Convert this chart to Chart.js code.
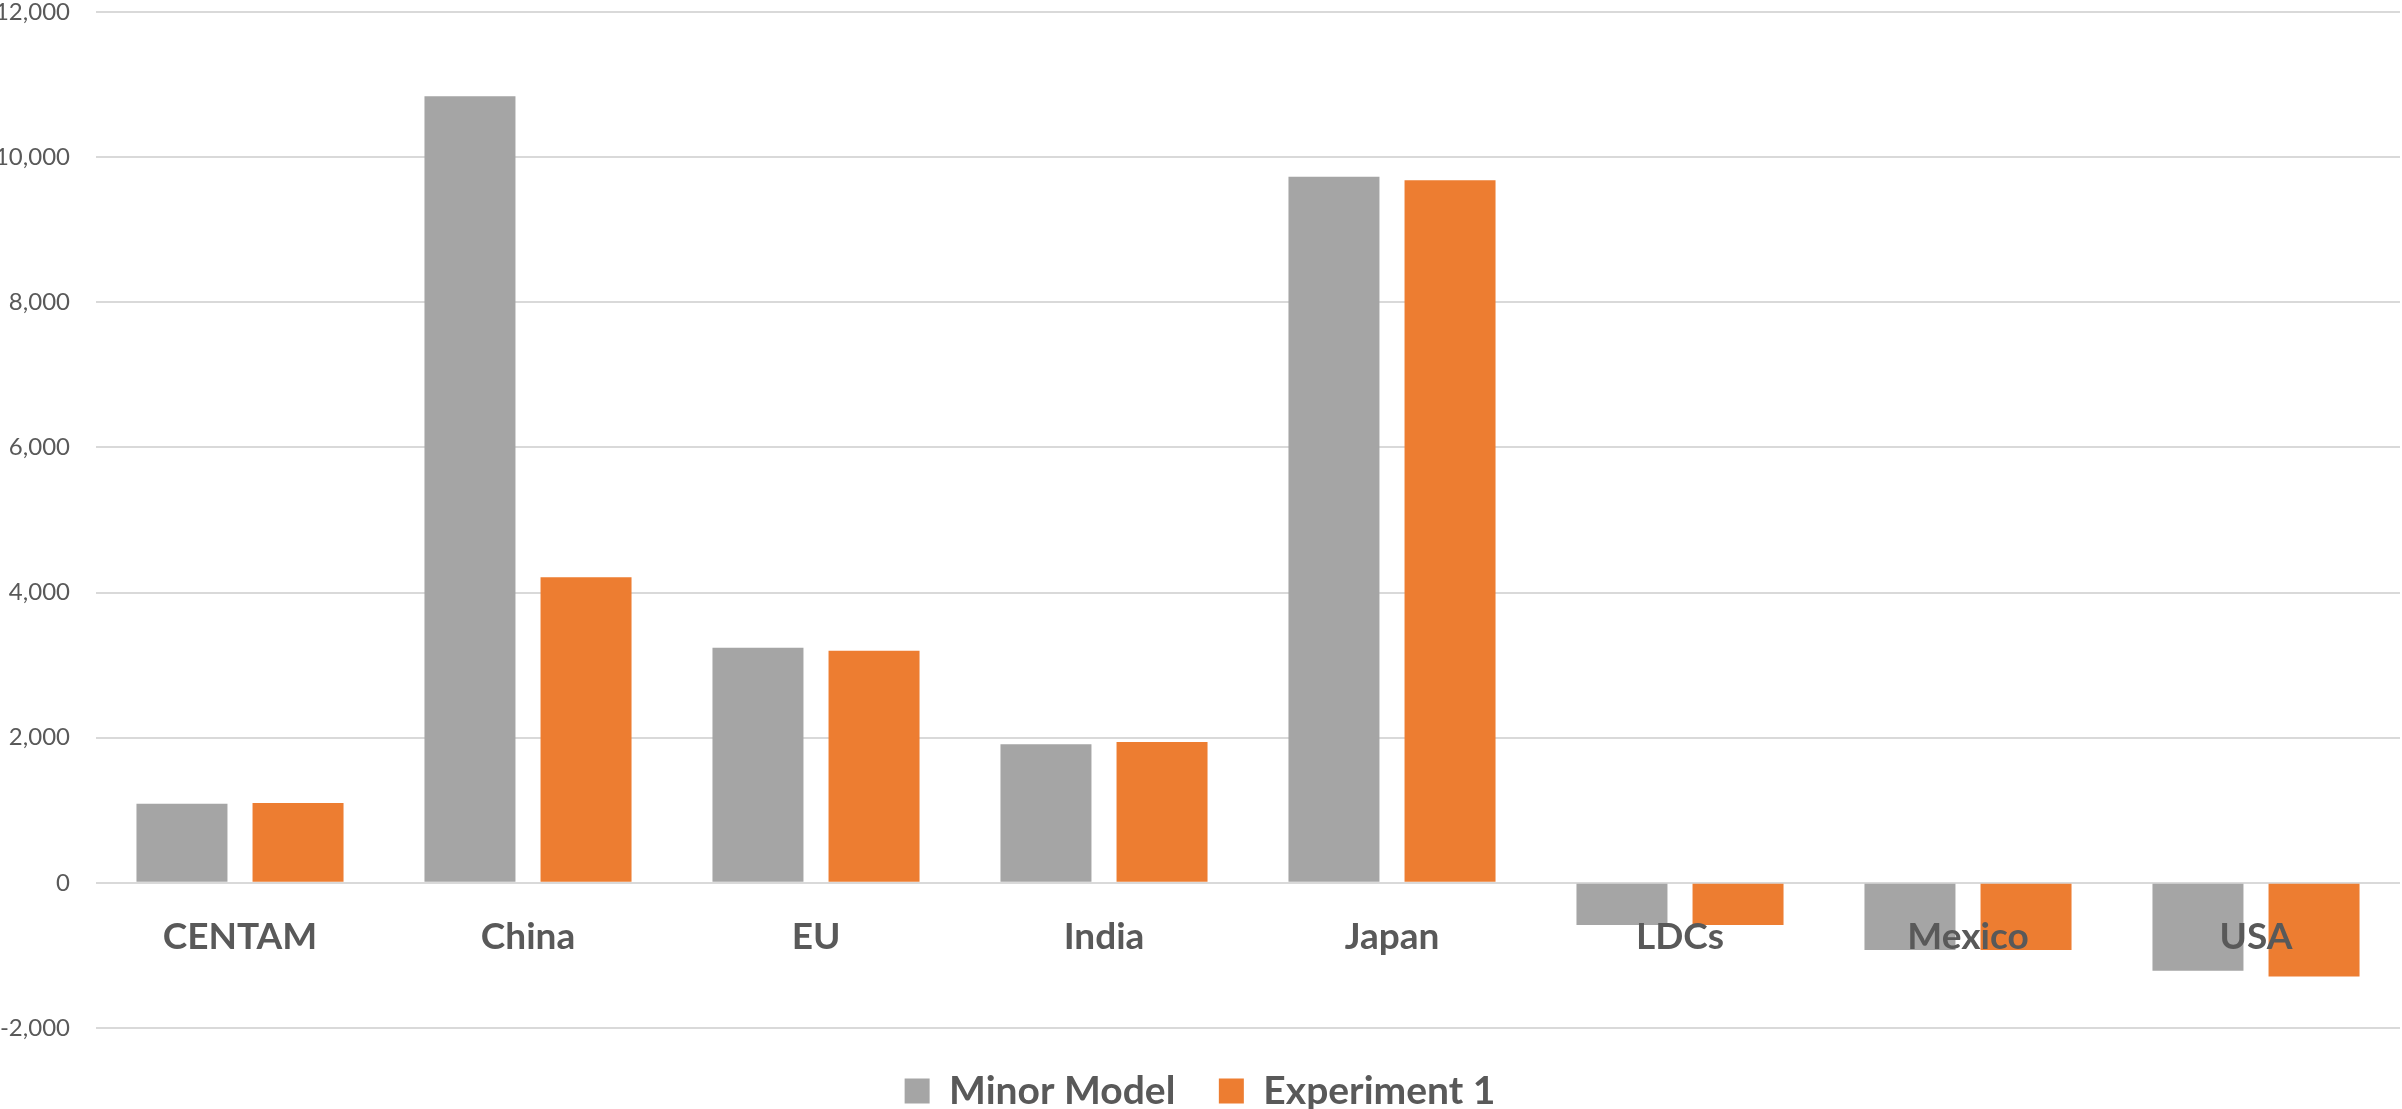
<!DOCTYPE html>
<html>
<head>
<meta charset="utf-8">
<script src="https://cdn.jsdelivr.net/npm/chart.js@4/dist/chart.umd.min.js"></script>
<style>
  html, body { margin: 0; padding: 0; background: #ffffff; }
  canvas { display: block; }
</style>
</head>
<body>
<canvas id="c" width="2402" height="1109"></canvas>
<script>
const categories = ["CENTAM", "China", "EU", "India", "Japan", "LDCs", "Mexico", "USA"];
const minorModel = [1090, 10840, 3240, 1910, 9730, -580, -925, -1210];
const experiment1 = [1100, 4210, 3200, 1940, 9680, -580, -925, -1290];
const seriesNames = ["Minor Model", "Experiment 1"];
const yMin = -2000, yMax = 12000, yStep = 2000;

const FONT = "Lato, 'Open Sans', 'Liberation Sans', sans-serif";
const TEXT = "#595959";

new Chart(document.getElementById("c"), {
  type: "bar",
  data: {
    labels: categories,
    datasets: [
      { label: seriesNames[0], data: minorModel, backgroundColor: "#a5a5a5",
        categoryPercentage: 0.806, barPercentage: 0.784 },
      { label: seriesNames[1], data: experiment1, backgroundColor: "#ed7d31",
        categoryPercentage: 0.806, barPercentage: 0.784 }
    ]
  },
  options: {
    responsive: false,
    animation: false,
    devicePixelRatio: 1,
    layout: { padding: { top: 12, right: 2, bottom: -11.5, left: 0 } },
    plugins: {
      tooltip: { enabled: false },
      legend: {
        position: "bottom",
        labels: {
          color: TEXT,
          font: { family: FONT, size: 39, weight: "bold" },
          boxWidth: 25, boxHeight: 25,
          padding: 43.5
        }
      }
    },
    scales: {
      x: {
        position: { y: 0 },
        grid: { display: false, drawTicks: false },
        border: { display: false },
        ticks: {
          z: 1,
          padding: 32,
          color: TEXT,
          font: { family: FONT, size: 37, weight: "bold" },
          maxRotation: 0
        }
      },
      y: {
        min: yMin, max: yMax,
        grid: { color: "#d9d9d9", lineWidth: 2, drawTicks: false },
        border: { display: false },
        ticks: {
          stepSize: yStep,
          padding: 26,
          color: TEXT,
          font: { family: FONT, size: 24, lineHeight: 1 },
          callback: v => Number(v).toLocaleString("en-US")
        },
        afterFit: s => { s.width = 96; s.paddingTop = 0; s.paddingBottom = 0; }
      }
    }
  }
});
</script>
</body>
</html>
